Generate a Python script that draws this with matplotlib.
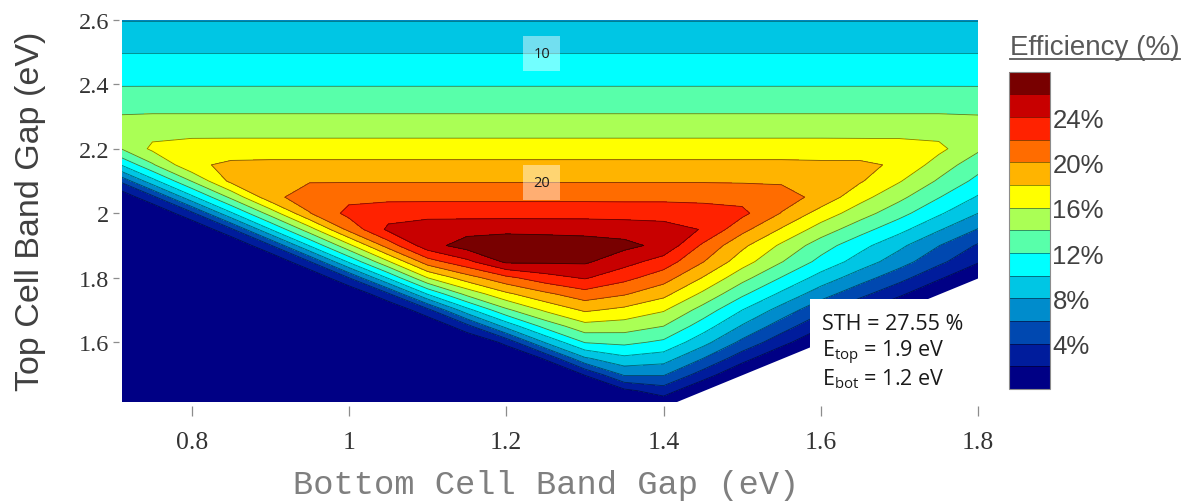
import numpy as np
import matplotlib
matplotlib.use("Agg")
import matplotlib.pyplot as plt
from matplotlib.lines import Line2D
from matplotlib.patches import Rectangle

plt.rcParams["font.family"] = ["Liberation Serif", "DejaVu Serif"]

# bottom-cell band gap (columns) and top-cell band gap (rows), eV
bot_gap = [0.70, 0.75, 0.80, 0.85, 0.90, 0.95, 1.00, 1.05, 1.10, 1.15, 1.20, 1.25,
           1.30, 1.35, 1.40, 1.45, 1.50, 1.55, 1.60, 1.65, 1.70, 1.75, 1.80]
top_gap = [1.40, 1.45, 1.50, 1.55, 1.60, 1.65, 1.70, 1.75, 1.80, 1.85, 1.90,
           1.95, 2.00, 2.05, 2.10, 2.15, 2.20, 2.25, 2.30, 2.40, 2.50, 2.60]

# solar-to-hydrogen efficiency (%), one row per top gap
sth = [
    [0, 0, 0, 0, 0, 0, 0, 0, 0, 0, 0, 0, 0, 0, 0, 0, 0, 0, 0, 0, 0, 0, 0],
    [0, 0, 0, 0, 0, 0, 0, 0, 0, 0, 0, 0, 0, 1.5, 3.0, 0, 0, 0, 0, 0, 0, 0, 0],
    [0, 0, 0, 0, 0, 0, 0, 0, 0, 0, 0, 0, 2.1, 6.3, 6.2, 3.1, 0, 0, 0, 0, 0, 0, 0],
    [0, 0, 0, 0, 0, 0, 0, 0, 0, 0, 0, 2.2, 7.7, 9.5, 8.9, 6.0, 2.8, 0, 0, 0, 0, 0, 0],
    [0, 0, 0, 0, 0, 0, 0, 0, 0, 0, 2.5, 8.2, 12.1, 12.5, 11.6, 8.7, 5.5, 2.7, 0, 0, 0, 0, 0],
    [0, 0, 0, 0, 0, 0, 0, 0, 0, 3.3, 8.7, 12.7, 15.3, 15.0, 14.0, 11.0, 7.8, 5.0, 2.3, 0, 0, 0, 0],
    [0, 0, 0, 0, 0, 0, 0, 0, 3.4, 9.3, 13.6, 16.35, 18.3, 17.5, 16.2, 13.2, 10.0, 7.2, 4.5, 2.2, 0, 0, 0],
    [0, 0, 0, 0, 0, 0, 0, 3.7, 10.15, 14.6, 17.6, 19.6, 21.2, 20.2, 18.6, 15.6, 12.4, 9.6, 6.9, 4.6, 2.4, 0, 0],
    [0, 0, 0, 0, 0, 0, 4.0, 10.25, 16.0, 19.1, 21.5, 23.2, 24.2, 22.6, 20.9, 17.9, 14.7, 11.9, 9.2, 6.9, 4.7, 2.3, 0],
    [0, 0, 0, 0, 0, 3.9, 10.35, 15.8, 21.1, 23.5, 26.4, 26.3, 26.3, 24.8, 23.1, 20.1, 16.9, 14.1, 11.4, 9.1, 6.9, 4.5, 2.2],
    [0, 0, 0, 0, 3.75, 10.15, 15.5, 20.9, 25.2, 26.9, 27.55, 27.3, 27.0, 26.5, 25.5, 21.65, 18.45, 15.65, 12.95, 10.65, 8.45, 6.05, 3.75],
    [0, 0, 0, 3.6, 9.95, 15.15, 20.6, 24.4, 25.2, 25.3, 25.4, 25.35, 25.3, 25.2, 24.8, 23.9, 20.6, 17.8, 15.1, 12.8, 10.6, 8.2, 5.9],
    [0, 0, 3.5, 9.7, 14.8, 19.9, 22.6, 23.2, 23.3, 23.3, 23.3, 23.3, 23.3, 23.2, 23.2, 23.0, 22.5, 19.9, 17.2, 14.9, 12.7, 10.3, 8.0],
    [0, 3.4, 9.5, 14.45, 19.3, 21.2, 21.45, 21.5, 21.5, 21.5, 21.5, 21.5, 21.5, 21.5, 21.5, 21.4, 21.3, 21.0, 19.3, 16.7, 14.5, 12.1, 9.8],
    [3.3, 9.3, 14.1, 18.5, 19.7, 19.85, 19.85, 19.85, 19.85, 19.85, 19.85, 19.85, 19.85, 19.85, 19.85, 19.85, 19.8, 19.7, 19.6, 18.2, 16.15, 13.75, 11.45],
    [9.1, 13.75, 17.6, 18.4, 18.5, 18.5, 18.5, 18.5, 18.5, 18.5, 18.5, 18.5, 18.5, 18.5, 18.5, 18.5, 18.5, 18.5, 18.4, 18.4, 17.7, 15.1, 12.8],
    [13.4, 16.4, 16.9, 16.95, 16.95, 16.95, 16.95, 16.95, 16.95, 16.95, 16.95, 16.95, 16.95, 16.95, 16.95, 16.95, 16.95, 16.95, 16.95, 16.9, 16.85, 16.5, 14.35],
    [15.1, 15.45, 15.5, 15.5, 15.5, 15.5, 15.5, 15.5, 15.5, 15.5, 15.5, 15.5, 15.5, 15.5, 15.5, 15.5, 15.5, 15.5, 15.5, 15.5, 15.5, 15.4, 15.2],
    [14.1, 14.2, 14.2, 14.2, 14.2, 14.2, 14.2, 14.2, 14.2, 14.2, 14.2, 14.2, 14.2, 14.2, 14.2, 14.2, 14.2, 14.2, 14.2, 14.2, 14.2, 14.2, 14.1],
    [11.85, 11.85, 11.85, 11.85, 11.85, 11.85, 11.85, 11.85, 11.85, 11.85, 11.85, 11.85, 11.85, 11.85, 11.85, 11.85, 11.85, 11.85, 11.85, 11.85, 11.85, 11.85, 11.85],
    [9.9, 9.9, 9.9, 9.9, 9.9, 9.9, 9.9, 9.9, 9.9, 9.9, 9.9, 9.9, 9.9, 9.9, 9.9, 9.9, 9.9, 9.9, 9.9, 9.9, 9.9, 9.9, 9.9],
    [7.9, 7.9, 7.9, 7.9, 7.9, 7.9, 7.9, 7.9, 7.9, 7.9, 7.9, 7.9, 7.9, 7.9, 7.9, 7.9, 7.9, 7.9, 7.9, 7.9, 7.9, 7.9, 7.9],
]

levels = [0, 2, 4, 6, 8, 10, 12, 14, 16, 18, 20, 22, 24, 26, 28]
band_colors = ["#000085", "#001c9c", "#0048b0", "#008ccc", "#00c6e4", "#00ffff", "#58ffaa",
               "#aaff55", "#ffff00", "#ffb400", "#ff6c00", "#ff2200", "#c80000", "#780000"]
label_levels = [10, 20]
cbar_ticks = [4, 8, 12, 16, 20, 24]
cbar_labels = ["4%", "8%", "12%", "16%", "20%", "24%"]
x_ticks = [0.8, 1.0, 1.2, 1.4, 1.6, 1.8]
x_ticklabels = ["0.8", "1", "1.2", "1.4", "1.6", "1.8"]
y_ticks = [1.6, 1.8, 2.0, 2.2, 2.4, 2.6]
y_ticklabels = ["1.6", "1.8", "2", "2.2", "2.4", "2.6"]

Z = np.array(sth)
bx = np.array(bot_gap)
ty = np.array(top_gap)

fig = plt.figure(figsize=(11.89, 5.02), dpi=100)
ax = fig.add_axes([0.1024, 0.1972, 0.7202, 0.7616])

cf = ax.contourf(bx, ty, Z, levels=levels, colors=band_colors)
cs = ax.contour(bx, ty, Z, levels=levels[1:-1], colors="k", linewidths=0.6, alpha=0.5)

# bottom gap above top gap is not a valid tandem -> blank
ax.fill_between(bx, ty[0], bx, color="white", lw=0, zorder=3)

# labels for the 10 % and 20 % lines
cs_lab = ax.contour(bx, ty, Z, levels=label_levels, colors="k", linewidths=0)
labs = cs_lab.clabel(manual=[(1.245, 2.495), (1.245, 2.095)], inline=False,
                     fmt="%d", fontsize=10.5, colors="#1a1a1a")
for t in labs:
    t.set_fontfamily("Open Sans")
    t.set_bbox(dict(boxstyle="square,pad=0.7", fc="white", ec="none", alpha=0.45))

# best point of the map, in a white box at lower right
i, j = np.unravel_index(np.argmax(Z), Z.shape)
note_lines = [f"STH = {Z[i, j]:.2f} %",
              f"E$_\\mathregular{{top}}$ = {ty[i]:g} eV",
              f"E$_\\mathregular{{bot}}$ = {bx[j]:g} eV"]
ax.add_patch(Rectangle((0.804, 0.0), 0.196, 0.27, transform=ax.transAxes,
                       fc="white", ec="none", zorder=5))
for line, yb in zip(note_lines, [0.191, 0.118, 0.047]):
    ax.text(0.8175, yb, line, transform=ax.transAxes, ha="left", va="baseline",
            fontsize=15.5, family="Open Sans", color="#1a1a1a", zorder=6)

ax.set_xlim(0.711, 1.8)
ax.set_ylim(1.415, 2.6)
ax.set_xticks(x_ticks)
ax.set_xticklabels(x_ticklabels)
ax.set_yticks(y_ticks)
ax.set_yticklabels(y_ticklabels)
for s in ax.spines.values():
    s.set_visible(False)
ax.spines["bottom"].set_position(("outward", 3))
ax.spines["left"].set_position(("outward", 2))
ax.tick_params(axis="x", direction="out", length=7, width=0.9, color="#8c8c8c",
               pad=11, labelsize=18.5, labelcolor="#333333")
ax.tick_params(axis="y", direction="out", length=4, width=0.9, color="#8c8c8c",
               pad=3, labelsize=17.5, labelcolor="#333333")

fig.text(0.026, 0.58, "Top Cell Band Gap (eV)", rotation=90, ha="center", va="center",
         fontsize=24.5, family="Liberation Sans", color="#404040")
fig.text(0.4597, 0.016, "Bottom Cell Band Gap (eV)", ha="center", va="baseline",
         fontsize=24.3, family="Liberation Mono", color="#7f7f7f")

cax = fig.add_axes([0.8489, 0.2231, 0.0345, 0.6321])
cb = fig.colorbar(cf, cax=cax, ticks=cbar_ticks)
cb.ax.set_yticklabels(cbar_labels, fontfamily="Liberation Sans", fontsize=18.5, color="#404040")
cb.ax.tick_params(length=0, pad=1.5)
cb.outline.set_edgecolor("#8c8c8c")
cb.outline.set_linewidth(0.8)
cb.add_lines(cs)

title = fig.text(0.8494, 0.8904, "Efficiency (%)", ha="left", va="baseline",
                 fontsize=20, family="Liberation Sans", color="#595959")
fig.canvas.draw()
bb = title.get_window_extent(fig.canvas.get_renderer())
W, H = fig.canvas.get_width_height()
fig.add_artist(Line2D([bb.x0 / W, bb.x1 / W], [0.8805, 0.8805], color="#595959", lw=1.3))

fig.savefig("out.png", dpi=100)
